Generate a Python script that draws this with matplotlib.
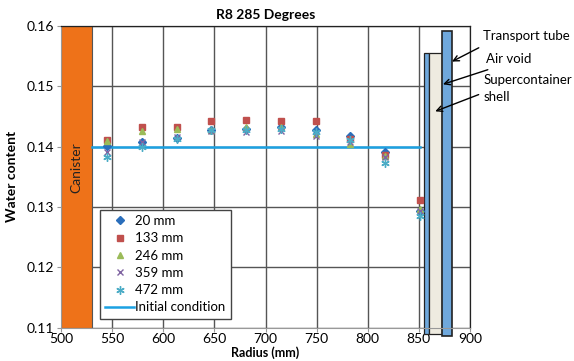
import matplotlib
matplotlib.use('Agg')
import matplotlib.pyplot as plt
from matplotlib.patches import Rectangle

plt.rcParams['font.family'] = ['Lato', 'DejaVu Sans']

# radius positions (mm)
radius = [545, 579, 613, 647, 681, 715, 749, 783, 817, 851]

# water content per height
wc_20 = [0.1401, 0.1407, 0.1414, 0.1427, 0.1429, 0.1432, 0.1427, 0.1418, 0.1391, 0.1294]
wc_133 = [0.1411, 0.1432, 0.1432, 0.1442, 0.1444, 0.1443, 0.1442, 0.1412, 0.1386, 0.1312]
wc_246 = [0.1410, 0.1426, 0.1429, 0.1428, 0.1432, 0.1432, 0.1421, 0.1405, 0.1385, 0.1297]
wc_359 = [0.1392, 0.1407, 0.1416, 0.1426, 0.1424, 0.1426, 0.1417, 0.1408, 0.1383, 0.1294]
wc_472 = [0.1383, 0.1400, 0.1413, 0.1427, 0.1427, 0.1430, 0.1425, 0.1411, 0.1373, 0.1286]

ic_x = [530, 851]
ic_y = [0.14, 0.14]

fig = plt.figure(figsize=(5.74, 3.61), dpi=100)
ax = fig.add_axes([0.1063, 0.092, 0.7125, 0.836])

ax.set_xlim(500, 900)
ax.set_ylim(0.11, 0.16)
ax.set_xticks([500, 550, 600, 650, 700, 750, 800, 850, 900])
ax.set_yticks([0.11, 0.12, 0.13, 0.14, 0.15, 0.16])
ax.grid(True, color='#555555', lw=1.0, zorder=0)
ax.set_axisbelow(True)

for s in ['left', 'bottom']:
    ax.spines[s].set_color('#999999')
for s in ['top', 'right']:
    ax.spines[s].set_color('#222222')
    ax.spines[s].set_linewidth(0.9)
ax.tick_params(length=3, color='#999999', labelsize=10, pad=2)
ax.tick_params(axis='x', pad=1)

# canister and container parts
ax.add_patch(Rectangle((500, 0.11), 30, 0.05, facecolor='#EE7219', edgecolor='#555555', lw=0.8, zorder=2))
ax.text(515, 0.1365, 'Canister', rotation=90, ha='center', va='center', fontsize=10, color='#222222', zorder=3)
ax.add_patch(Rectangle((855, 0.109), 5, 0.1556 - 0.109, facecolor='#6FA8DC', edgecolor='#222222', lw=0.9, zorder=2, clip_on=False))
ax.add_patch(Rectangle((860, 0.109), 13, 0.1556 - 0.109, facecolor='#EEEBE0', edgecolor='#222222', lw=0.9, zorder=2, clip_on=False))
ax.add_patch(Rectangle((873, 0.1086), 9, 0.1592 - 0.1086, facecolor='#6FA8DC', edgecolor='#222222', lw=1.2, zorder=2, clip_on=False))

ax.plot(ic_x, ic_y, color='#1BA1E2', lw=1.8, label='Initial condition', zorder=3)
ax.plot(radius, wc_20, ls='none', marker='D', color='#2A6EBB', ms=4.5, label='20 mm', zorder=4)
ax.plot(radius, wc_133, ls='none', marker='s', color='#C0504D', ms=5, label='133 mm', zorder=4)
ax.plot(radius, wc_246, ls='none', marker='^', color='#9BBB59', ms=5, label='246 mm', zorder=4)
ax.plot(radius, wc_359, ls='none', marker='x', color='#8064A2', ms=5, mew=1, label='359 mm', zorder=4)
ax.plot(radius, wc_472, ls='none', marker=(6, 2, 0), color='#4BACC6', ms=6, mew=1, label='472 mm', zorder=4)

handles, labels = ax.get_legend_handles_labels()
order = [1, 2, 3, 4, 5, 0]
leg = ax.legend([handles[i] for i in order], [labels[i] for i in order],
                loc='lower left', bbox_to_anchor=(0.095, 0.03), borderaxespad=0,
                fontsize=9.5, fancybox=False, framealpha=1, edgecolor='#444444',
                handlelength=2.2, handletextpad=0.1, labelspacing=0.4)
leg.set_zorder(5)

# annotations
arrow = dict(arrowstyle='->', color='black', lw=1.0)
ax.annotate('', xy=(880, 0.1539), xytext=(911, 0.1566), arrowprops=arrow, annotation_clip=False)
ax.annotate('', xy=(871, 0.1502), xytext=(920, 0.1529), arrowprops=arrow, annotation_clip=False)
ax.annotate('', xy=(863.5, 0.1457), xytext=(911, 0.1488), arrowprops=arrow, annotation_clip=False)
ax.text(913, 0.1584, 'Transport tube', fontsize=9.5, va='center', clip_on=False)
ax.text(916, 0.1546, 'Air void', fontsize=9.5, va='center', clip_on=False)
ax.text(913, 0.1510, 'Supercontainer', fontsize=9.5, va='center', clip_on=False)
ax.text(913, 0.1483, 'shell', fontsize=9.5, va='center', clip_on=False)

ax.set_title('R8 285 Degrees', fontsize=10, fontweight='bold', pad=5)
ax.set_ylabel('Water content', fontsize=10, fontweight='bold', labelpad=6)
ax.set_xlabel('Radius (mm)', fontsize=9, fontweight='bold', labelpad=1)

fig.savefig('out.png', dpi=100)
